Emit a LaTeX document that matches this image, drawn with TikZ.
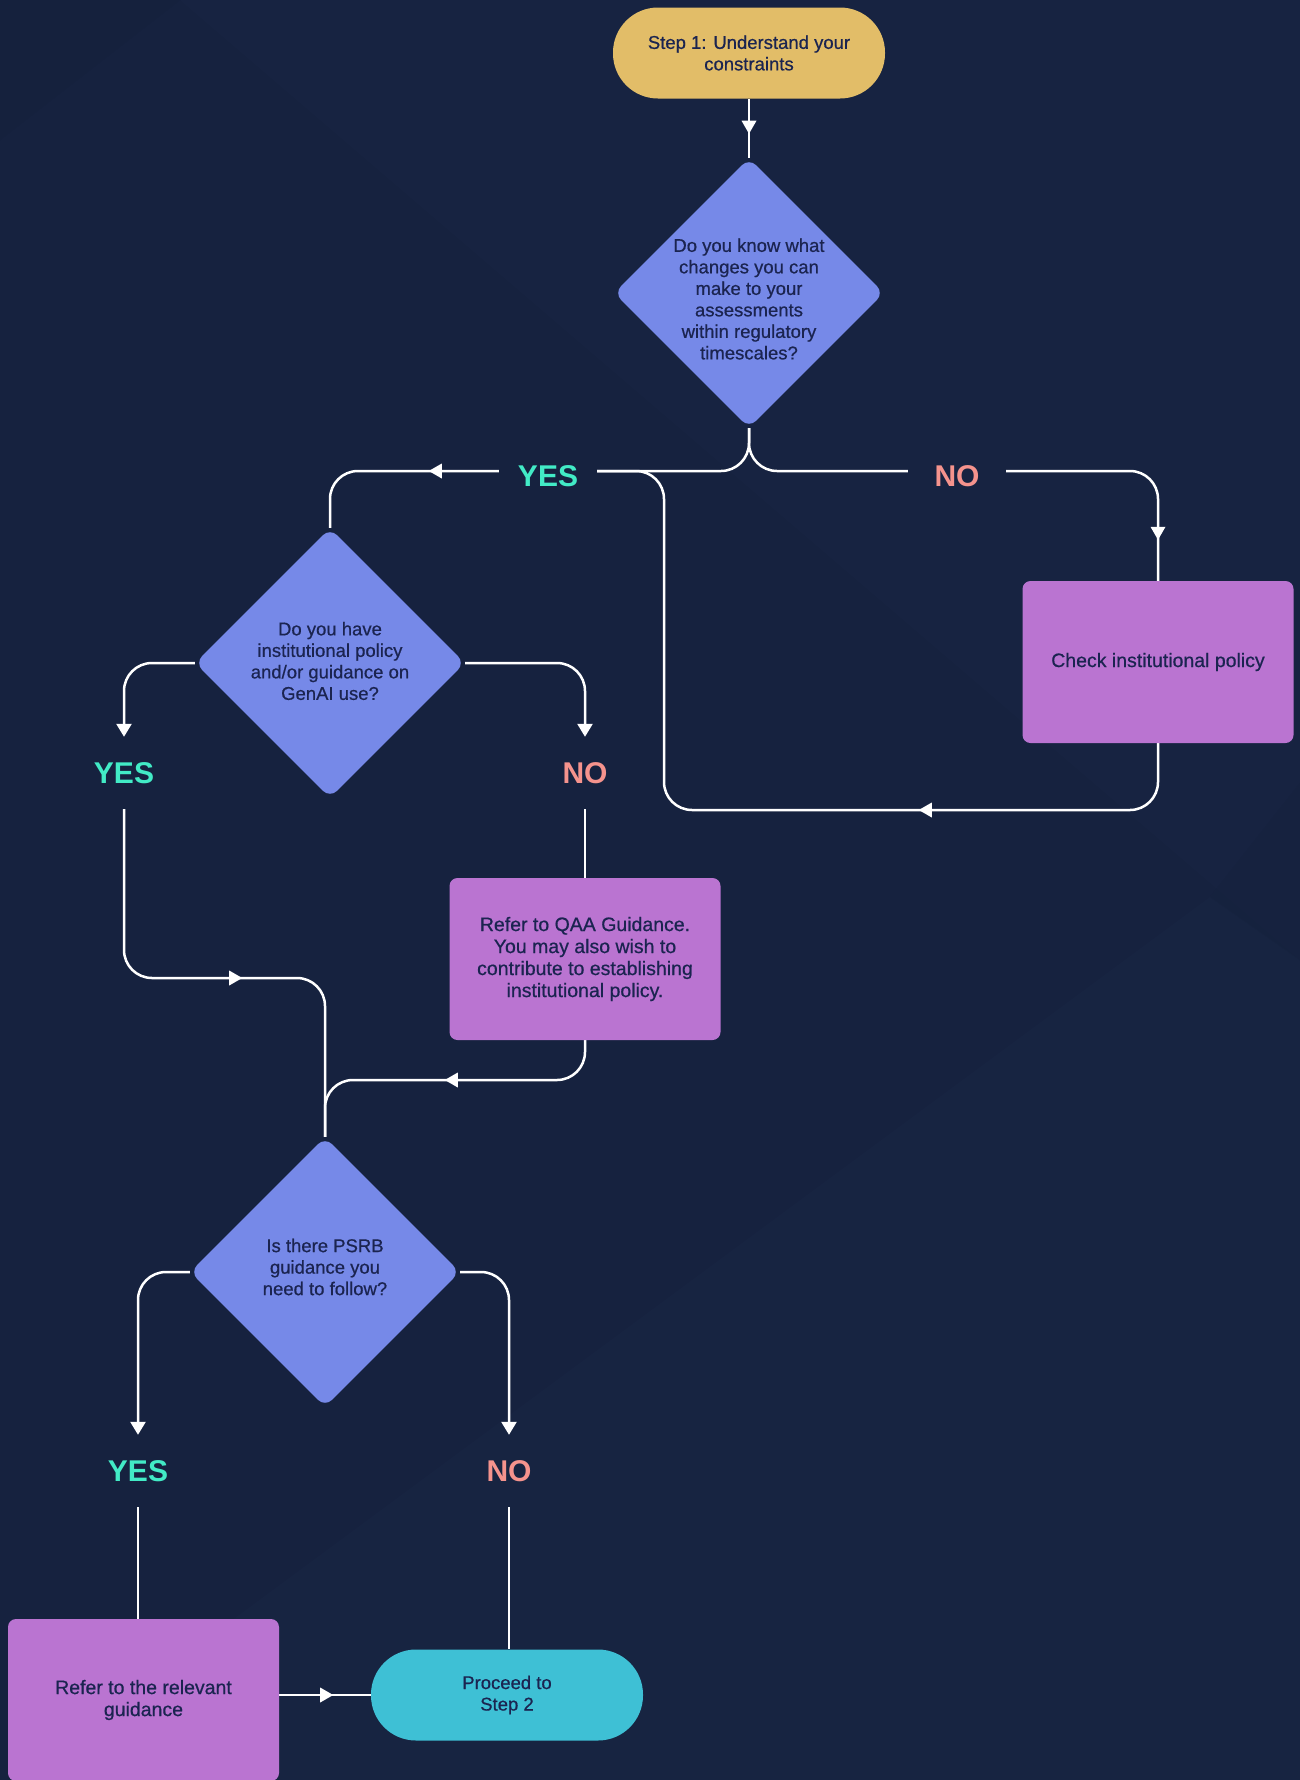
\documentclass[tikz,border=0pt]{standalone}
\usepackage{fontspec}
\setmainfont{Liberation Sans}
\newfontfamily\medfont[FakeBold=0.6]{Liberation Sans}
\usetikzlibrary{shapes.geometric,arrows.meta,decorations.markings}
\definecolor{bgnavy}{HTML}{16223F}
\definecolor{bglight}{HTML}{1A2746}
\definecolor{bgdark}{HTML}{142039}
\definecolor{gold}{HTML}{E2BD68}
\definecolor{peri}{HTML}{7689E8}
\definecolor{violet}{HTML}{BA74D1}
\definecolor{cyanpill}{HTML}{3EC0D5}
\definecolor{yesc}{HTML}{42EBC6}
\definecolor{noc}{HTML}{F5938D}
\definecolor{ink}{HTML}{1B2450}
\pgfdeclarelayer{background}
\pgfdeclarelayer{edges}
\pgfsetlayers{background,edges,main}
\tikzset{
  base/.style={font=\medfont\fontsize{18.5}{21.5}\selectfont, text=ink, align=center, inner sep=0pt},
  boxtext/.style={font=\medfont\fontsize{19.5}{22}\selectfont},
  pillbox/.style={base, rectangle, rounded corners=45pt, minimum width=272pt, minimum height=91pt},
  actbox/.style={base, boxtext, rectangle, rounded corners=8pt, fill=violet, minimum width=271pt, minimum height=162pt},
  dia/.style={diamond, fill=peri, minimum width=270pt, minimum height=270pt, inner sep=0pt, rounded corners=10pt},
  ans/.style={font=\bfseries\fontsize{30}{30}\selectfont, minimum width=98pt, minimum height=72pt, inner sep=0pt},
  yeslbl/.style={ans, text=yesc},
  nolbl/.style={ans, text=noc},
  flow/.style={draw=white, line width=2.5pt, rounded corners=28pt},
  endtip/.style={-{Triangle[width=15pt,length=13pt]}},
  midarrow/.style={postaction={decorate}, decoration={markings, mark=at position #1 with {\fill[white, sharp corners] (-13pt,-7.5pt) -- (0pt,0pt) -- (-13pt,7.5pt) -- cycle;}}}
}
\begin{document}
\begin{tikzpicture}[x=1pt, y=-1pt]
\useasboundingbox (0,0) rectangle (1300,1780);
\begin{pgfonlayer}{background}
  \fill[bgnavy] (0,0) rectangle (1300,1780);
  \fill[bglight, opacity=0.35] (180,0) -- (1300,0) -- (1300,960) -- cycle;
  \fill[bgdark, opacity=0.3] (0,0) -- (180,0) -- (0,140) -- cycle;
  \fill[bglight, opacity=0.4] (1300,783) -- (1300,1780) -- (16,1780) -- (1210,897) -- cycle;
  \fill[bgdark, opacity=0.35] (1300,783) -- (1210,897) -- (1300,960) -- cycle;
\end{pgfonlayer}

% nodes
\node[pillbox, fill=gold] (start) at (749,53) {Step 1: Understand your\\constraints};
\node[dia, label={[base, yshift=-6pt]center:{Do you know what\\changes you can\\make to your\\assessments\\within regulatory\\timescales?}}] (d1) at (749,293) {};
\coordinate (lvl) at (749,471);
\node[yeslbl] (yes1) at (548,476) {YES};
\node[nolbl] (no1) at (957,476) {NO};
\node[actbox] (check) at (1158,662) {Check institutional policy};
\node[dia, label={[base, yshift=2pt]center:{Do you have\\institutional policy\\and/or guidance on\\GenAI use?}}] (d2) at (330,663) {};
\node[yeslbl] (yes2) at (124,773) {YES};
\node[nolbl] (no2) at (585,773) {NO};
\node[actbox] (qaa) at (585,959) {Refer to QAA Guidance.\\You may also wish to\\contribute to establishing\\institutional policy.};
\coordinate (m1) at (664,810);
\coordinate (j2) at (325,978);
\coordinate (j3) at (325,1080);
\node[dia, label={[base, yshift=5pt]center:{Is there PSRB\\guidance you\\need to follow?}}] (d3) at (325,1272) {};
\node[yeslbl] (yes3) at (138,1471) {YES};
\node[nolbl] (no3) at (509,1471) {NO};
\node[actbox] (refer) at (143.5,1700) {Refer to the relevant\\guidance};
\node[pillbox, fill=cyanpill] (proceed) at (507,1695) {Proceed to\\Step 2};

% connectors
\begin{pgfonlayer}{edges}
  \draw[flow, midarrow=35pt] (start.south) -- (d1.north);
  \draw[flow] (d1.south) |- (yes1.east |- lvl);
  \draw[flow] (d1.south) |- (no1.west |- lvl);
  \draw[flow, midarrow=70pt] (yes1.west |- lvl) -| (d2.north);
  \draw[flow, midarrow=-41pt] (no1.east |- lvl) -| (check.north);
  \draw[flow, midarrow=294pt] (check.south) |- (m1) |- (yes1.east |- lvl);
  \draw[flow, endtip] (d2.west) -| (yes2.north);
  \draw[flow, endtip] (d2.east) -| (no2.north);
  \draw[flow, midarrow=275pt] (yes2.south) |- (j2) -- (d3.north);
  \draw[flow] (no2.south) -- (qaa.north);
  \draw[flow, midarrow=168pt] (qaa.south) |- (j3) -- (d3.north);
  \draw[flow, endtip] (d3.west) -| (yes3.north);
  \draw[flow, endtip] (d3.east) -| (no3.north);
  \draw[flow] (yes3.south) -- (yes3.south |- refer.north);
  \draw[flow] (no3.south) -- (no3.south |- proceed.north);
  \draw[flow, midarrow=54pt] (refer.east |- proceed.west) -- (proceed.west);
\end{pgfonlayer}
\end{tikzpicture}
\end{document}
